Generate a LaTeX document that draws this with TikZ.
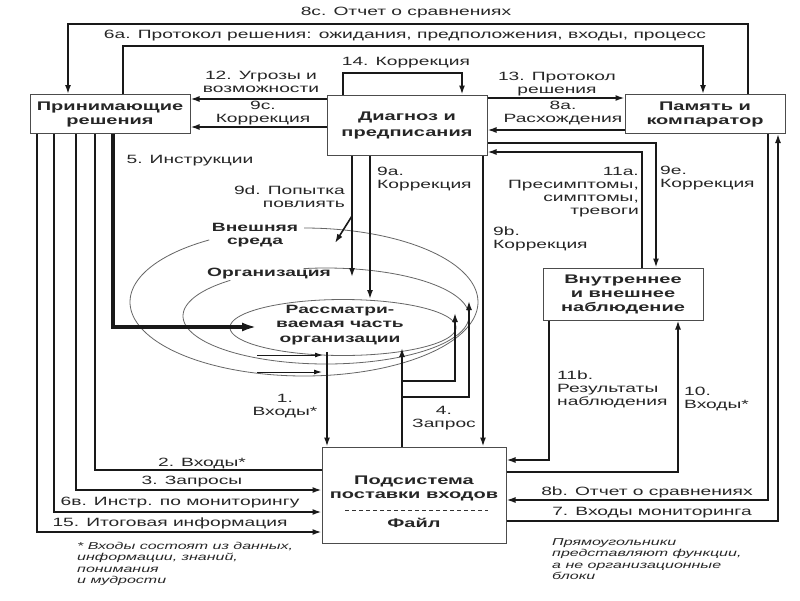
\documentclass[tikz,border=0pt]{standalone}
\usepackage{fontspec}
\setmainfont{Liberation Sans}[FakeStretch=1.6]
\usetikzlibrary{arrows.meta,calc}
\begin{document}
\begin{tikzpicture}[x=1pt,y=-1pt,
  box/.style={draw=black!70, line width=1pt, fill=white, inner sep=0pt, align=center,
    font=\fontsize{12.5}{14}\selectfont\bfseries, text=black!85},
  btext/.style={inner sep=0pt, align=center, font=\fontsize{12.5}{14}\selectfont\bfseries, text=black!85},
  lbl/.style={inner sep=0pt, align=center, font=\fontsize{12}{13}\selectfont, text=black!85},
  lbll/.style={lbl, align=left},
  lblr/.style={lbl, align=right},
  note/.style={inner sep=0pt, align=left, font=\fontsize{10}{11.5}\selectfont\itshape, text=black!85},
  conn/.style={line width=1.6pt, draw=black!90},
  arr/.style={conn, -{Latex[length=9pt,width=6pt]}},
  thinarr/.style={line width=1pt, draw=black!90, -{Latex[length=8pt,width=5pt]}},
  thickarr/.style={line width=3.4pt, draw=black!90, -{Latex[length=15pt,width=9pt]}},
  ring/.style={line width=0.8pt, draw=black!60},
]
\useasboundingbox[fill=white] (0,0) rectangle (800,600);

% ---------- rings ----------
\draw[ring] plot[domain=123:450, samples=140, smooth] ({304+174*cos(\x)}, {302-74*sin(\x)});
\draw[ring] plot[domain=132:459, samples=140, smooth] ({326+143*cos(\x)}, {316-48*sin(\x)});
\draw[ring] plot[domain=0:360, samples=140, smooth] ({343+113*cos(\x)}, {327.5-28*sin(\x)});
\node[btext, font=\fontsize{12}{13.5}\selectfont\bfseries] (env) at (255,235) {Внешняя\\среда};
\node[btext, font=\fontsize{12}{13.5}\selectfont\bfseries] (org) at (269,274) {Организация};
\node[btext, font=\fontsize{12}{14.5}\selectfont\bfseries] (part) at (340,325) {Рассматри-\\ваемая часть\\организации};

% ---------- boxes ----------
\node[box, minimum width=160pt, minimum height=39pt] (DM) at (110,114) {Принимающие\\решения};
\node[box, minimum width=160pt, minimum height=60pt, font=\fontsize{12.5}{16}\selectfont\bfseries] (DP) at (407,125) {Диагноз и\\предписания};
\node[box, minimum width=160pt, minimum height=39pt] (MC) at (705,114) {Память и\\компаратор};
\node[box, minimum width=160pt, minimum height=52pt] (OBS) at (623,294) {Внутреннее\\и внешнее\\наблюдение};
\node[box, minimum width=184pt, minimum height=96pt] (SUP) at (414,495) {};
\node[btext] (SUPa) at (414,488) {Подсистема\\поставки входов};
\node[btext] (SUPb) at (414,523) {Файл};
\coordinate (dashL) at (345,510);
\coordinate (dashR) at (488,510);
\draw[line width=1pt, dash pattern=on 4pt off 3pt, black!80] (dashL) -- (dashR);

% ---------- bend coordinates ----------
\coordinate (c8cR) at (748,24);  \coordinate (c8cL) at (68,24);
\coordinate (c6aL) at (123,46);  \coordinate (c6aR) at (703,46);
\coordinate (c14L) at (343,73);  \coordinate (c14R) at (462,73);
\coordinate (c12) at (0,99);     \coordinate (c9c) at (0,127);
\coordinate (c13) at (0,98);     \coordinate (c8a) at (0,130);
\coordinate (c9e) at (656,143);  \coordinate (c11a) at (642,152);
\coordinate (c9d) at (352,277);  \coordinate (c9db) at (352,216); \coordinate (c9dt) at (335,243);
\coordinate (c9a) at (370,299);
\coordinate (c9b) at (483,0);
\coordinate (c5) at (113,327);   \coordinate (c5e) at (257,327);
\coordinate (c2) at (95,470);    \coordinate (c3) at (76,490);
\coordinate (c6b) at (54,512);   \coordinate (c15) at (37,532);
\coordinate (c1t) at (327,352);
\coordinate (c1a) at (257,355);  \coordinate (c1ae) at (323,355);
\coordinate (c1b) at (257,372);  \coordinate (c1be) at (322,372);
\coordinate (c4) at (402,348);
\coordinate (c4a) at (402,381);  \coordinate (c4ae) at (455,313);
\coordinate (c4b) at (402,397);  \coordinate (c4be) at (469,301);
\coordinate (c11b) at (549,460); \coordinate (c10) at (678,472);
\coordinate (c8b) at (768,500);  \coordinate (c7) at (778,521);

% ---------- connectors ----------
\draw[arr] (MC.north -| c8cR) |- (c8cL) -- (DM.north -| c8cL);
\draw[arr] (DM.north -| c6aL) |- (c6aR) -- (MC.north -| c6aR);
\draw[arr] (DP.north -| c14L) |- (c14R) -- (DP.north -| c14R);
\draw[arr] (DP.west |- c12) -- (DM.east |- c12);
\draw[arr] (DP.west |- c9c) -- (DM.east |- c9c);
\draw[arr] (DP.east |- c13) -- (MC.west |- c13);
\draw[arr] (MC.west |- c8a) -- (DP.east |- c8a);
\draw[arr] (DP.east |- c9e) -| (OBS.north -| c9e);
\draw[arr] (OBS.north -| c11a) |- (DP.east |- c11a);
\draw[arr] (DP.south -| c9d) -- (c9d);
\draw[arr] (c9db) -- (c9dt);
\draw[arr] (DP.south -| c9a) -- (c9a);
\draw[arr] (DP.south -| c9b) -- (SUP.north -| c9b);
\draw[thickarr] (DM.south -| c5) |- (c5e);
\draw[conn] (DM.south -| c2) |- (SUP.west |- c2);
\draw[arr] (DM.south -| c3) |- (SUP.west |- c3);
\draw[arr] (DM.south -| c6b) |- (SUP.west |- c6b);
\draw[arr] (DM.south -| c15) |- (SUP.west |- c15);
\draw[arr] (c1t) -- (SUP.north -| c1t);
\draw[thinarr] (c1a) -- (c1ae);
\draw[thinarr] (c1b) -- (c1be);
\draw[arr] (SUP.north -| c4) -- (c4);
\draw[arr] (c4a) -| (c4ae);
\draw[arr] (c4b) -| (c4be);
\draw[arr] (OBS.south -| c11b) |- (SUP.east |- c11b);
\draw[arr] (SUP.east |- c10) -| (OBS.south -| c10);
\draw[arr] (MC.south -| c8b) |- (SUP.east |- c8b);
\draw[arr] (SUP.east |- c7) -| (MC.south -| c7);

% ---------- labels ----------
\node[lbl] (l8c) at (406,13) {8c. Отчет о сравнениях};
\node[lbl] (l6a) at (405,36) {6a. Протокол решения: ожидания, предположения, входы, процесс};
\node[lbl] (l14) at (406,63) {14. Коррекция};
\node[lbl] (l12) at (261,82) {12. Угрозы и\\возможности};
\node[lbl] (l9c) at (263,113) {9c.\\Коррекция};
\node[lbl] (l13) at (557,84) {13. Протокол\\решения};
\node[lbl] (l8a) at (563,113) {8a.\\Расхождения};
\node[lbll, anchor=west] (l9e) at (660,178) {9e.\\Коррекция};
\node[lblr, anchor=east] (l11a) at (639,192) {11a.\\Пресимптомы,\\симптомы,\\тревоги};
\node[lbll, anchor=west] (l9b) at (493,239) {9b.\\Коррекция};
\node[lbll, anchor=west] (l9a) at (377,179) {9a.\\Коррекция};
\node[lblr, anchor=east] (l9d) at (345,197) {9d. Попытка\\повлиять};
\node[lbl] (l5) at (190,161) {5. Инструкции};
\node[lbl] (l2) at (202,463) {2. Входы*};
\node[lbl] (l3) at (192,482) {3. Запросы};
\node[lbl] (l6b) at (180,503) {6в. Инстр. по мониторингу};
\node[lbl] (l15) at (170,523) {15. Итоговая информация};
\node[lbl] (l1) at (285,406) {1.\\Входы*};
\node[lbl] (l4) at (444,418) {4.\\Запрос};
\node[lbll, anchor=west] (l11b) at (557,389) {11b.\\Результаты\\наблюдения};
\node[lbll, anchor=west] (l10) at (684,399) {10.\\Входы*};
\node[lbl] (l8b) at (647,492) {8b. Отчет о сравнениях};
\node[lbl] (l7) at (652,513) {7. Входы мониторинга};
\node[note, anchor=west] (n1) at (77,564) {* Входы состоят из данных,\\информации, знаний,\\понимания\\и мудрости};
\node[note, anchor=west] (n2) at (552,559) {Прямоугольники\\представляют функции,\\а не организационные\\блоки};
\end{tikzpicture}
\end{document}
